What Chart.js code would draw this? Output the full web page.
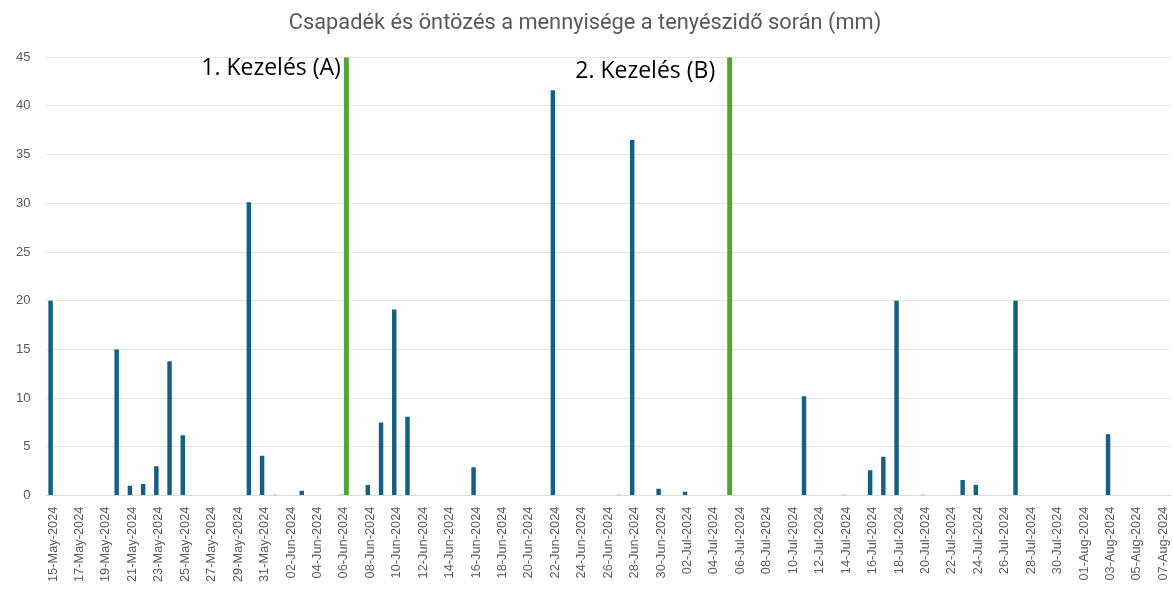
<!DOCTYPE html>
<html>
<head>
<meta charset="utf-8">
<script src="https://cdn.jsdelivr.net/npm/chart.js@4.4.1/dist/chart.umd.min.js"></script>
<style>
  html, body { margin: 0; padding: 0; background: #fff; }
  #wrap { width: 1173px; height: 595px; position: relative; }
</style>
</head>
<body>
<div id="wrap"><canvas id="chart"></canvas></div>
<script>
const dates = [
  '15-May-2024','16-May-2024','17-May-2024','18-May-2024','19-May-2024','20-May-2024','21-May-2024','22-May-2024',
  '23-May-2024','24-May-2024','25-May-2024','26-May-2024','27-May-2024','28-May-2024','29-May-2024','30-May-2024',
  '31-May-2024','01-Jun-2024','02-Jun-2024','03-Jun-2024','04-Jun-2024','05-Jun-2024','06-Jun-2024','07-Jun-2024',
  '08-Jun-2024','09-Jun-2024','10-Jun-2024','11-Jun-2024','12-Jun-2024','13-Jun-2024','14-Jun-2024','15-Jun-2024',
  '16-Jun-2024','17-Jun-2024','18-Jun-2024','19-Jun-2024','20-Jun-2024','21-Jun-2024','22-Jun-2024','23-Jun-2024',
  '24-Jun-2024','25-Jun-2024','26-Jun-2024','27-Jun-2024','28-Jun-2024','29-Jun-2024','30-Jun-2024','01-Jul-2024',
  '02-Jul-2024','03-Jul-2024','04-Jul-2024','05-Jul-2024','06-Jul-2024','07-Jul-2024','08-Jul-2024','09-Jul-2024',
  '10-Jul-2024','11-Jul-2024','12-Jul-2024','13-Jul-2024','14-Jul-2024','15-Jul-2024','16-Jul-2024','17-Jul-2024',
  '18-Jul-2024','19-Jul-2024','20-Jul-2024','21-Jul-2024','22-Jul-2024','23-Jul-2024','24-Jul-2024','25-Jul-2024',
  '26-Jul-2024','27-Jul-2024','28-Jul-2024','29-Jul-2024','30-Jul-2024','31-Jul-2024','01-Aug-2024','02-Aug-2024',
  '03-Aug-2024','04-Aug-2024','05-Aug-2024','06-Aug-2024','07-Aug-2024'
];

// csapadék (mm), one value per day
const rain = [
  20, 0, 0, 0, 0, 15, 1.0, 1.2,
  3.0, 13.8, 6.2, 0, 0, 0, 0, 30.1,
  4.1, 0.1, 0, 0.5, 0, 0, 0.1, 0,
  1.1, 7.5, 19.1, 8.1, 0, 0, 0, 0,
  2.9, 0, 0, 0, 0, 0, 41.6, 0,
  0, 0, 0, 0.1, 36.5, 0, 0.7, 0,
  0.4, 0, 0, 0, 0, 0, 0, 0,
  0, 10.2, 0, 0, 0.1, 0, 2.6, 4.0,
  20, 0, 0.1, 0, 0, 1.6, 1.1, 0,
  0, 20, 0, 0, 0, 0, 0, 0,
  6.3, 0, 0, 0, 0
];

// öntözés (mm)
const irrigationDays = ['06-Jun-2024', '05-Jul-2024'];
const irrigationAmounts = [45, 45];
const irrigation = dates.map(d => {
  const k = irrigationDays.indexOf(d);
  return k >= 0 ? irrigationAmounts[k] : 0;
});

const treatmentLabels = ['1. Kezelés (A)', '2. Kezelés (B)'];
const yTicks = [0, 5, 10, 15, 20, 25, 30, 35, 40, 45];

const textGray = '#595959';

// draws the treatment names to the left of the green bars
const treatmentLabelPlugin = {
  id: 'treatmentLabels',
  afterDatasetsDraw(chart, args, opts) {
    const ctx = chart.ctx;
    const meta = chart.getDatasetMeta(1);
    let n = 0;
    meta.data.forEach((bar, i) => {
      if (!irrigation[i]) return;
      const k = n++;
      const text = treatmentLabels[k];
      if (!text) return;
      ctx.save();
      ctx.font = '23px "Open Sans", sans-serif';
      ctx.fillStyle = '#000';
      ctx.textAlign = 'right';
      ctx.textBaseline = 'middle';
      ctx.fillText(text, bar.x - bar.width / 2 - opts.gap[k], bar.y + opts.drop[k]);
      ctx.restore();
    });
  }
};

new Chart(document.getElementById('chart'), {
  type: 'bar',
  data: {
    labels: dates,
    datasets: [
      {
        label: 'Csapadék',
        data: rain,
        backgroundColor: '#156082',
        barPercentage: 0.9,
        categoryPercentage: 0.75
      },
      {
        label: 'Öntözés',
        data: irrigation,
        backgroundColor: '#4ea72e',
        barPercentage: 1,
        categoryPercentage: 0.75
      }
    ]
  },
  options: {
    responsive: true,
    maintainAspectRatio: false,
    animation: false,
    layout: { padding: { left: 0, right: 3, top: 6, bottom: 2 } },
    plugins: {
      legend: { display: false },
      tooltip: { enabled: false },
      treatmentLabels: { gap: [3, 12], drop: [11, 14] },
      title: {
        display: true,
        text: 'Csapadék és öntözés a mennyisége a tenyészidő során (mm)',
        color: textGray,
        font: { family: '"Liberation Sans Narrow", "Roboto", sans-serif', size: 21.8, weight: 'normal' },
        padding: { top: 4, bottom: 21 }
      }
    },
    scales: {
      x: {
        grid: { display: false, drawTicks: false },
        border: { color: '#d9d9d9' },
        afterFit: axis => { axis.paddingLeft = 0; axis.paddingRight = 0; },
        ticks: {
          autoSkip: false,
          maxRotation: 90,
          minRotation: 90,
          color: textGray,
          padding: 11,
          font: { family: '"Liberation Sans", Arial, sans-serif', size: 12.8 },
          callback: (v, i) => (i % 2 === 0 ? dates[i] : '')
        }
      },
      y: {
        min: 0,
        max: 45,
        afterBuildTicks: axis => { axis.ticks = yTicks.map(v => ({ value: v })); },
        grid: { color: '#e3e3e3', drawTicks: false },
        border: { display: false },
        ticks: {
          color: textGray,
          padding: 16,
          font: { family: '"Liberation Sans", Arial, sans-serif', size: 13 }
        }
      }
    }
  },
  plugins: [treatmentLabelPlugin]
});
</script>
</body>
</html>
